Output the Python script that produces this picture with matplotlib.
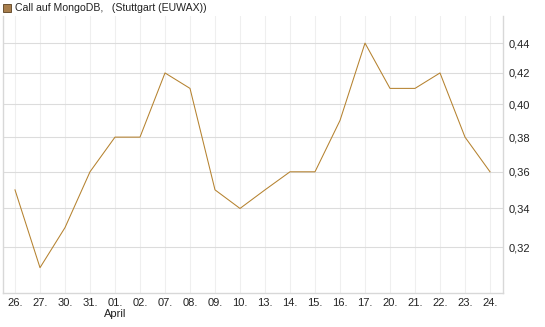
import matplotlib
matplotlib.use("Agg")
import matplotlib.pyplot as plt
from matplotlib.ticker import FixedLocator, NullLocator, NullFormatter
from matplotlib.patches import Rectangle

dates = ["26.", "27.", "30.", "31.", "01.", "02.", "07.", "08.", "09.", "10.",
         "13.", "14.", "15.", "16.", "17.", "20.", "21.", "22.", "23.", "24."]
values = [0.35, 0.31, 0.33, 0.36, 0.38, 0.38, 0.42, 0.41, 0.35, 0.34,
          0.35, 0.36, 0.36, 0.39, 0.44, 0.41, 0.41, 0.42, 0.38, 0.36]
yticks = [0.32, 0.34, 0.36, 0.38, 0.40, 0.42, 0.44]
ylabels = ["0,32", "0,34", "0,36", "0,38", "0,40", "0,42", "0,44"]
month_label = "April"
month_index = 4
legend_text = "Call auf MongoDB,   (Stuttgart (EUWAX))"

plt.rcParams['font.family'] = ['Liberation Sans', 'DejaVu Sans']

fig = plt.figure(figsize=(5.45, 3.27), dpi=100)
ax = fig.add_axes([3/545, 34/327, 500/545, 277/327])

x = list(range(len(dates)))
ax.plot(x, values, color="#B5822F", lw=0.75)

ax.set_yscale("log")
ax.set_ylim(0.298, 0.459)
ax.set_xlim(-0.48, 19.52)

ax.yaxis.set_major_locator(FixedLocator(yticks))
ax.yaxis.set_minor_locator(NullLocator())
ax.yaxis.set_minor_formatter(NullFormatter())
ax.set_yticks(yticks)
ax.set_yticklabels(ylabels)
ax.yaxis.tick_right()
ax.tick_params(axis="y", length=0, pad=4, labelsize=8, colors="#222222")

ax.set_xticks(x)
ax.set_xticklabels(dates)
ax.tick_params(axis="x", length=0, pad=3.5, labelsize=8, colors="#222222")

ax.grid(axis="y", color="#dcdcdc", lw=0.8)
ax.grid(axis="x", color="#efefef", lw=0.8)
ax.set_axisbelow(True)

for s in ["left", "right", "bottom"]:
    ax.spines[s].set_color("#d8d8d8")
    ax.spines[s].set_linewidth(1.0)
ax.spines["top"].set_visible(False)

ax.text(month_index, -21/277, month_label, transform=ax.get_xaxis_transform(),
        ha="center", va="center", fontsize=8, color="#222222")

fig.patches.append(Rectangle((3/545, 1 - 12/327), 8/545, 8/327, transform=fig.transFigure,
                             facecolor="#A87E4C", edgecolor="#5a4020", lw=0.6))
fig.text(15/545, 1 - 8/327, legend_text, ha="left", va="center", fontsize=7.6, color="#222222")

fig.savefig("out.png", dpi=100)
